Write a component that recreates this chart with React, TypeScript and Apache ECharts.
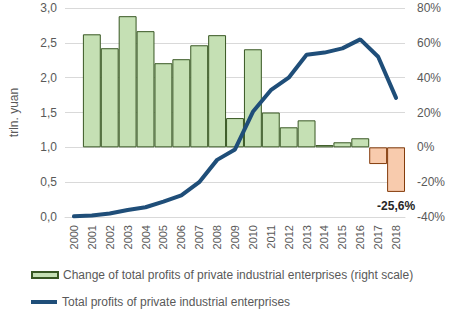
import React, { useEffect, useRef } from "react";
import * as echarts from "echarts";

const years = ["2000","2001","2002","2003","2004","2005","2006","2007","2008","2009","2010","2011","2012","2013","2014","2015","2016","2017","2018"];
// Change of total profits, % (right scale)
const changePct: (number | null)[] = [null, 64.9, 56.9, 75.3, 66.7, 48.3, 50.6, 58.6, 64.4, 16.8, 56.3, 20.0, 11.5, 15.5, 1.3, 2.9, 5.2, -9.6, -25.6];
// Total profits, trln yuan (left scale)
const totalProfits: number[] = [0.01, 0.02, 0.05, 0.10, 0.14, 0.22, 0.31, 0.50, 0.82, 0.97, 1.51, 1.82, 2.00, 2.33, 2.36, 2.42, 2.55, 2.30, 1.71];
const annotatedYear = "2018";
const barName = "Change of total profits of private industrial enterprises (right scale)";
const lineName = "Total profits of private industrial enterprises";

const FONT = "Liberation Sans, Arial, sans-serif";
const GREY = "#595959";

export default function App() {
  const ref = useRef<HTMLDivElement>(null);
  useEffect(() => {
    if (!ref.current) return;
    const chart = echarts.init(ref.current, undefined, { renderer: "svg" });
    const barData = changePct.map((v, i) => {
      if (v === null) return null;
      const neg = v < 0;
      const item: any = {
        value: v,
        itemStyle: neg
          ? { color: "#f8cbad", borderColor: "#843c0c", borderWidth: 1 }
          : { color: "#c5e0b4", borderColor: "#385723", borderWidth: 1 },
      };
      if (years[i] === annotatedYear) {
        item.label = {
          show: true,
          position: "bottom",
          distance: 8,
          formatter: (p: any) => `${String(p.value).replace(".", ",")}%`,
          fontFamily: FONT,
          fontSize: 12,
          fontWeight: "bold",
          color: "#262626",
        };
      }
      return item;
    });
    chart.setOption({
      animation: false,
      textStyle: { fontFamily: FONT },
      grid: { left: 60, right: 48, top: 8, bottom: 105 },
      legend: [
        {
          data: [{ name: barName, icon: "rect" }],
          left: 31,
          top: 269,
          padding: 0,
          itemWidth: 26,
          itemHeight: 6,
          textStyle: { fontFamily: FONT, fontSize: 12, color: GREY },
        },
        {
          data: [{ name: lineName, icon: "rect", itemStyle: { color: "#1f4e79", borderWidth: 0 } }],
          left: 31,
          top: 296,
          padding: 0,
          itemWidth: 26,
          itemHeight: 4,
          textStyle: { fontFamily: FONT, fontSize: 12, color: GREY },
        },
      ],
      xAxis: {
        type: "category",
        data: years,
        axisTick: { show: false },
        axisLine: { lineStyle: { color: "#d9d9d9" } },
        axisLabel: { rotate: 90, color: GREY, fontSize: 11, fontFamily: FONT, margin: 8 },
      },
      yAxis: [
        {
          type: "value",
          min: 0,
          max: 3,
          interval: 0.5,
          name: "trln. yuan",
          nameLocation: "middle",
          nameGap: 45,
          nameTextStyle: { color: GREY, fontSize: 12, fontFamily: FONT },
          axisLabel: {
            color: GREY,
            fontSize: 12,
            fontFamily: FONT,
            margin: 8,
            formatter: (v: number) => v.toFixed(1).replace(".", ","),
          },
          splitLine: { lineStyle: { color: "#d9d9d9" } },
          axisLine: { show: false },
          axisTick: { show: false },
        },
        {
          type: "value",
          min: -40,
          max: 80,
          interval: 20,
          position: "right",
          axisLabel: {
            color: GREY,
            fontSize: 12,
            fontFamily: FONT,
            margin: 12,
            formatter: (v: number) => `${v}%`,
          },
          splitLine: { show: false },
          axisLine: { show: false },
          axisTick: { show: false },
        },
      ],
      series: [
        {
          name: barName,
          type: "bar",
          yAxisIndex: 1,
          barCategoryGap: "0%",
          itemStyle: { color: "#c5e0b4", borderColor: "#385723", borderWidth: 1 },
          data: barData,
        },
        {
          name: lineName,
          type: "line",
          yAxisIndex: 0,
          symbol: "none",
          lineStyle: { color: "#1f4e79", width: 4, cap: "round" },
          itemStyle: { color: "#1f4e79" },
          data: totalProfits,
        },
      ],
    });
    return () => chart.dispose();
  }, []);
  return <div ref={ref} style={{ width: 453, height: 322, position: "absolute", left: 0, top: 0 }} />;
}
